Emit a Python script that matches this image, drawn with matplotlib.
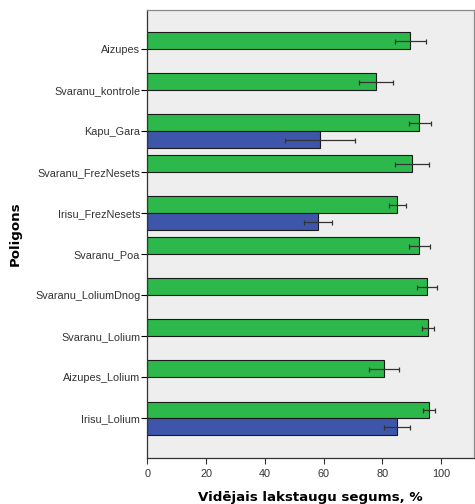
import matplotlib.pyplot as plt
import numpy as np

plt.rcParams['font.family'] = ['Liberation Sans', 'DejaVu Sans']

poligons = ['Aizupes', 'Svaranu_kontrole', 'Kapu_Gara', 'Svaranu_FrezNesets',
            'Irisu_FrezNesets', 'Svaranu_Poa', 'Svaranu_LoliumDnog',
            'Svaranu_Lolium', 'Aizupes_Lolium', 'Irisu_Lolium']

# green series
green_mean = [89.5, 77.9, 92.6, 90.1, 85.1, 92.6, 95.1, 95.5, 80.6, 95.9]
green_lo = [84.4, 72.2, 89.0, 84.4, 82.1, 89.1, 91.7, 93.4, 75.6, 93.8]
green_hi = [94.7, 83.7, 96.4, 95.9, 88.1, 96.2, 98.6, 97.6, 85.6, 98.0]

# blue series (only three poligons)
blue_idx = [2, 4, 9]
blue_mean = [58.8, 58.1, 85.1]
blue_lo = [46.9, 53.5, 80.5]
blue_hi = [70.6, 62.7, 89.5]

fig = plt.figure(figsize=(4.75, 5.04), dpi=100)
fig.set_facecolor('white')
ax = fig.add_axes([0.31, 0.091, 0.688, 0.889])
ax.set_facecolor('#eeeeee')

y = np.arange(len(poligons))
h = 0.41
gm = np.array(green_mean)
ax.barh(y - h/2, gm, height=h, color='#2db84b', edgecolor='#1a1a1a', linewidth=0.8)
ax.errorbar(gm, y - h/2, xerr=[gm - np.array(green_lo), np.array(green_hi) - gm],
            fmt='none', ecolor='#333333', elinewidth=0.9, capsize=1.8, capthick=0.9)

bm = np.array(blue_mean)
by = np.array(blue_idx)
ax.barh(by + h/2, bm, height=h, color='#3d56aa', edgecolor='#1a1a1a', linewidth=0.8)
ax.errorbar(bm, by + h/2, xerr=[bm - np.array(blue_lo), np.array(blue_hi) - bm],
            fmt='none', ecolor='#333333', elinewidth=0.9, capsize=1.8, capthick=0.9)

ax.set_ylim(9.97, -0.95)
ax.set_xlim(0, 111.2)
ax.set_yticks(y)
ax.set_yticklabels(poligons, fontsize=7.8, color='#333333')
ax.set_xticks([0, 20, 40, 60, 80, 100])
ax.tick_params(axis='x', labelsize=7.8, length=4, width=0.8, colors='#333333')
ax.tick_params(axis='y', length=4, width=0.8, pad=1)

for s in ['left', 'bottom']:
    ax.spines[s].set_color('#333333')
    ax.spines[s].set_linewidth(0.9)
for s in ['top', 'right']:
    ax.spines[s].set_color('#8a8a8a')
    ax.spines[s].set_linewidth(0.9)

ax.set_xlabel('Vidējais lakstaugu segums, %', fontsize=9.6, fontweight='bold',
              family=['DejaVu Sans'], labelpad=9)
ax.set_ylabel('Poligons', fontsize=9.6, fontweight='bold', family=['DejaVu Sans'])
ax.yaxis.set_label_coords(-0.385, 0.5)

fig.savefig('out.png', dpi=100)
